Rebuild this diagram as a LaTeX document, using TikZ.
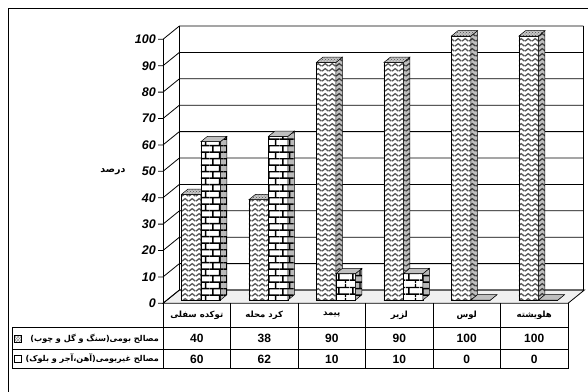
\documentclass[tikz,border=0pt]{standalone}
\usepackage{fontspec}
\setmainfont{Liberation Sans}
\newfontfamily\farsi[Script=Arabic]{DejaVu Sans}
\TeXXeTstate=1
\usetikzlibrary{patterns}

\pgfdeclarepatternformonly{weave}{\pgfqpoint{0pt}{0pt}}{\pgfqpoint{7pt}{5pt}}{\pgfqpoint{7pt}{5pt}}{
  \pgfsetlinewidth{1.5pt}
  \pgfpathmoveto{\pgfqpoint{0pt}{1pt}}
  \pgfpathlineto{\pgfqpoint{3.5pt}{4pt}}
  \pgfpathlineto{\pgfqpoint{7pt}{1pt}}
  \pgfusepath{stroke}
}
\pgfdeclarepatternformonly{brickwall}{\pgfqpoint{0pt}{0pt}}{\pgfqpoint{14pt}{13.4pt}}{\pgfqpoint{14pt}{13.4pt}}{
  \pgfsetlinewidth{1.4pt}
  \pgfpathmoveto{\pgfqpoint{0pt}{3pt}}\pgfpathlineto{\pgfqpoint{14pt}{3pt}}
  \pgfpathmoveto{\pgfqpoint{0pt}{9.7pt}}\pgfpathlineto{\pgfqpoint{14pt}{9.7pt}}
  \pgfpathmoveto{\pgfqpoint{3pt}{3pt}}\pgfpathlineto{\pgfqpoint{3pt}{9.7pt}}
  \pgfpathmoveto{\pgfqpoint{10pt}{9.7pt}}\pgfpathlineto{\pgfqpoint{10pt}{13.4pt}}
  \pgfpathmoveto{\pgfqpoint{10pt}{0pt}}\pgfpathlineto{\pgfqpoint{10pt}{3pt}}
  \pgfusepath{stroke}
}

\tikzset{gridline/.style={black, line width=0.8pt},
  floor/.style={draw=black, line width=0.8pt, fill=gray!12},
  tableline/.style={black, line width=0.8pt},
  ticklabel/.style={anchor=east, inner sep=0pt, font=\fontsize{12.5}{14}\selectfont\bfseries\itshape},
  cellnum/.style={inner sep=0pt, font=\fontsize{12}{14}\selectfont\bfseries},
  cellfa/.style={inner sep=0pt, font=\farsi\fontsize{8.5}{10}\selectfont\bfseries},
  legendfa/.style={inner sep=0pt, anchor=east, font=\farsi\fontsize{8.1}{10}\selectfont\bfseries},
  weavefront/.style={draw=black, line width=0.5pt, preaction={fill=white}, pattern=weave, pattern color=black!65},
  weaveside/.style={draw=black, line width=0.5pt, preaction={fill=gray!50}, pattern=weave, pattern color=black!75},
  weavetop/.style={draw=black, line width=0.5pt, preaction={fill=gray!45}, pattern=crosshatch dots, pattern color=black!70},
  brickfront/.style={draw=black, line width=0.5pt, preaction={fill=white}, pattern=brickwall, pattern color=black},
  brickside/.style={draw=black, line width=0.5pt, preaction={fill=gray!55}, pattern=brickwall, pattern color=black},
  bricktop/.style={draw=black, line width=0.5pt, fill=gray!50},
}

\begin{document}
\begin{tikzpicture}[x=1pt,y=-1pt]
\useasboundingbox (0,0) rectangle (588,391);
\clip (0,0) rectangle (588,391);
% chart frame
\draw[line width=0.8pt] (8.5,400) -- (8.5,8.5) -- (600,8.5);
% floor and walls
\draw[floor] (163,303.3) -- (568,303.3) -- (584.4,290) -- (179.4,290) -- cycle;
\foreach \v in {0,10,...,100} {
  \pgfmathsetmacro\yb{290-2.64*\v}
  \pgfmathsetmacro\yf{303.3-2.64*\v}
  \draw[gridline] (158,\yf) -- (163,\yf) -- (179.4,\yb) -- (583.4,\yb);
  \node[ticklabel] (t\v) at (156,\yf) {\v};
}
\draw[gridline] (163,303.3) -- (163,39.3);
\draw[gridline] (179.4,290) -- (179.4,26);
\draw[gridline] (583.4,26) -- (583.4,290);
\node[cellfa, font=\farsi\fontsize{9.5}{11}\selectfont\bfseries] (ytitle) at (113,172) {\beginR درصد\endR};
% columns
\foreach \c/\a/\b in {196.75/40/60, 264.25/38/62, 331.75/90/10, 399.25/90/10, 466.75/100/0, 534.25/100/0} {
  \pgfmathsetmacro\xm{\c+4.2}
  \pgfmathsetmacro\ya{300-2.64*\a}
  \pgfmathsetmacro\yb{300-2.64*\b}
  % native
  \draw[weavefront] (\xm-19.5,300) rectangle (\xm,\ya);
  \draw[weaveside] (\xm,300) -- (\xm+6.5,294.7) -- (\xm+6.5,\ya-5.3) -- (\xm,\ya) -- cycle;
  \draw[weavetop] (\xm-19.5,\ya) -- (\xm,\ya) -- (\xm+6.5,\ya-5.3) -- (\xm-13,\ya-5.3) -- cycle;
  % non-native
  \draw[brickfront] (\xm,300) rectangle (\xm+19.5,\yb);
  \draw[brickside] (\xm+19.5,300) -- (\xm+26,294.7) -- (\xm+26,\yb-5.3) -- (\xm+19.5,\yb) -- cycle;
  \draw[bricktop] (\xm,\yb) -- (\xm+19.5,\yb) -- (\xm+26,\yb-5.3) -- (\xm+6.5,\yb-5.3) -- cycle;
}
% data table
\draw[tableline] (12,327) -- (568,327);
\draw[tableline] (12,349.5) -- (568,349.5);
\draw[tableline] (12,368.5) -- (568,368.5);
\draw[tableline] (12,327) -- (12,368.5);
\foreach \i in {0,...,6}
  \draw[tableline] (163+67.5*\i,303.3) -- (163+67.5*\i,368.5);
\foreach \name/\a/\b [count=\i] in {توکده سفلی/40/60, کرد محله/38/62, پیمد/90/10, لزیر/90/10, لوس/100/0, هلویشته/100/0} {
  \node[cellfa] (h\i) at (163+67.5*\i-33.75,315) {\beginR\name\endR};
  \node[cellnum] (n\i) at (163+67.5*\i-33.75,338.5) {\a};
  \node[cellnum] (g\i) at (163+67.5*\i-33.75,359) {\b};
}
\node[legendfa] (native) at (159,338.5) {\beginR مصالح بومی(سنگ و گل و چوب)\endR};
\node[legendfa] (imported) at (159,359) {\beginR مصالح غیربومی(آهن،آجر و بلوک)\endR};
\draw[line width=0.6pt, preaction={fill=white}, pattern=crosshatch, pattern color=gray!80] (14,335) rectangle (21,342);
\draw[line width=0.8pt, fill=white] (14,355.5) rectangle (21,362.5);
\end{tikzpicture}
\end{document}
